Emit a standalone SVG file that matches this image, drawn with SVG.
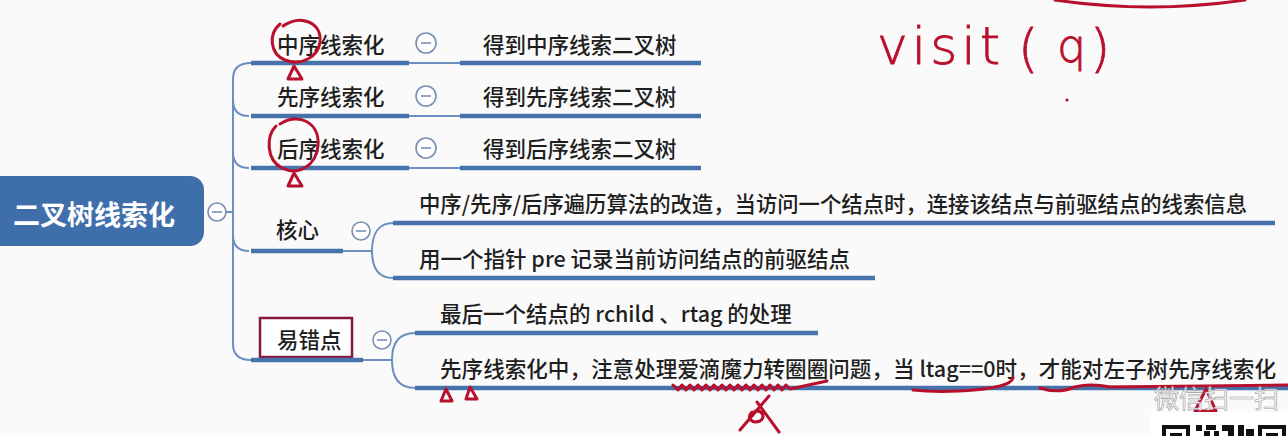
<svg xmlns="http://www.w3.org/2000/svg" width="1288" height="436" viewBox="0 0 1288 436">
<style>
.t{font-family:"Noto Sans CJK SC","Noto Sans",sans-serif;font-size:21.5px;font-weight:500;fill:#1e1e1e;}
.root{font-family:"Noto Sans CJK SC","Noto Sans",sans-serif;font-size:27px;font-weight:bold;fill:#ffffff;}
.ul{stroke:#4673ab;stroke-width:4.5;fill:none;stroke-linecap:butt;}
.thin{stroke:#6b8fbf;stroke-width:2;fill:none;}
.cc{fill:#ffffff;stroke:#7890b4;stroke-width:1.6;}
.cm{stroke:#7890b4;stroke-width:1.6;}
.red{stroke:#b8102c;stroke-width:3;fill:none;stroke-linecap:round;stroke-linejoin:round;}
.hand{font-family:"DejaVu Sans",sans-serif;font-weight:200;fill:#b8102c;stroke:#b8102c;stroke-width:0.8;}
</style>
<rect x="0" y="0" width="1288" height="436" fill="#fafafa"/>

<g id="connectors">
  <line class="thin" x1="226" y1="212" x2="233" y2="212"/>
  <path class="thin" d="M251 63 Q233 63 233 79 V344 Q233 360 251 360"/>
  <path class="thin" d="M233 100 Q233 116 249 116"/>
  <path class="thin" d="M233 152 Q233 168 249 168"/>
  <path class="thin" d="M233 235 Q233 251 249 251"/>
  <line class="thin" x1="409" y1="63" x2="460" y2="63"/>
  <line class="thin" x1="409" y1="116" x2="460" y2="116"/>
  <line class="thin" x1="409" y1="168" x2="460" y2="168"/>
  <path class="thin" d="M343 251 H372 C372 232 380 223 393 223"/>
  <path class="thin" d="M372 251 C372 270 380 278 393 278"/>
  <path class="thin" d="M363 360 H392 C392 341 400 333 415 333"/>
  <path class="thin" d="M392 360 C392 379 400 388 415 388"/>
</g>

<g id="root">
  <rect x="-14" y="176" width="218" height="70" rx="14" fill="#3f6fab"/>
  <text class="root" x="13" y="225">二叉树线索化</text>
  <circle class="cc" cx="217" cy="212" r="9"/>
  <line class="cm" x1="212" y1="212" x2="222" y2="212"/>
</g>

<g id="n-zhongxu">
  <text class="t" x="277" y="53">中序线索化</text>
  <line class="ul" x1="251" y1="63" x2="409" y2="63"/>
  <circle class="cc" cx="426" cy="43" r="10"/>
  <line class="cm" x1="421" y1="43" x2="431" y2="43"/>
</g>
<g id="n-zhongxu-c">
  <text class="t" x="483" y="53">得到中序线索二叉树</text>
  <line class="ul" x1="460" y1="63" x2="701" y2="63"/>
</g>

<g id="n-xianxu">
  <text class="t" x="277" y="105">先序线索化</text>
  <line class="ul" x1="251" y1="116" x2="409" y2="116"/>
  <circle class="cc" cx="426" cy="96" r="10"/>
  <line class="cm" x1="421" y1="96" x2="431" y2="96"/>
</g>
<g id="n-xianxu-c">
  <text class="t" x="483" y="105">得到先序线索二叉树</text>
  <line class="ul" x1="460" y1="116" x2="701" y2="116"/>
</g>

<g id="n-houxu">
  <text class="t" x="277" y="157">后序线索化</text>
  <line class="ul" x1="251" y1="168" x2="409" y2="168"/>
  <circle class="cc" cx="426" cy="148" r="10"/>
  <line class="cm" x1="421" y1="148" x2="431" y2="148"/>
</g>
<g id="n-houxu-c">
  <text class="t" x="483" y="157">得到后序线索二叉树</text>
  <line class="ul" x1="460" y1="168" x2="701" y2="168"/>
</g>

<g id="n-hexin">
  <text class="t" x="276" y="238">核心</text>
  <line class="ul" x1="251" y1="251" x2="343" y2="251"/>
  <circle class="cc" cx="361" cy="231" r="9"/>
  <line class="cm" x1="356" y1="231" x2="366" y2="231"/>
</g>
<g id="n-hexin-c1">
  <text class="t" x="419" y="212" textLength="828" lengthAdjust="spacingAndGlyphs">中序/先序/后序遍历算法的改造，当访问一个结点时，连接该结点与前驱结点的线索信息</text>
  <line class="ul" x1="393" y1="223" x2="1275" y2="223"/>
</g>
<g id="n-hexin-c2">
  <text class="t" x="419" y="267">用一个指针 pre 记录当前访问结点的前驱结点</text>
  <line class="ul" x1="393" y1="278" x2="875" y2="278"/>
</g>

<g id="n-yicuo">
  <rect x="260" y="318" width="92" height="39" fill="#ffffff" stroke="#861838" stroke-width="2.5"/>
  <text class="t" x="277" y="348">易错点</text>
  <line class="ul" x1="251" y1="360" x2="363" y2="360"/>
  <circle class="cc" cx="382" cy="340" r="9"/>
  <line class="cm" x1="377" y1="340" x2="387" y2="340"/>
</g>
<g id="n-yicuo-c1">
  <text class="t" x="440" y="322">最后一个结点的 rchild 、rtag 的处理</text>
  <line class="ul" x1="415" y1="333" x2="818" y2="333"/>
</g>
<g id="n-yicuo-c2">
  <text class="t" x="440" y="377" textLength="836" lengthAdjust="spacingAndGlyphs">先序线索化中，注意处理爱滴魔力转圈圈问题，当 ltag==0时，才能对左子树先序线索化</text>
  <line class="ul" x1="415" y1="388" x2="1288" y2="388"/>
</g>

<g id="annotations">
  <path class="red" d="M283 26 C300 14 322 22 320 42 C318 58 300 66 285 60 C270 54 268 34 280 24"/>
  <path class="red" d="M294 66 L288 79 L302 79 Z"/>
  <path class="red" d="M280 124 C298 112 320 122 318 146 C316 166 298 176 282 168 C266 160 266 136 276 126"/>
  <path class="red" d="M294 173 L288 186 L302 186 Z"/>
  <path class="red" d="M1055 0 Q1150 14 1245 0"/>
  <text class="hand" x="877" y="64" font-size="52" letter-spacing="4">visit</text>
  <text class="hand" x="1018" y="66" font-size="52">(</text>
  <text class="hand" x="1057" y="62" font-size="46">q</text>
  <text class="hand" x="1090" y="66" font-size="52">)</text>
  <circle cx="1067" cy="100" r="1.6" fill="#b8102c"/>
  <path class="red" d="M446 389 L441 401 L452 401 Z"/>
  <path class="red" d="M470 387 L466 399 L477 399 Z"/>
  <path class="red" d="M673 385 l5 5 l4 -5 l4 5 l4 -5 l4 5 l4 -5 l4 5 l4 -5 l4 5 l4 -5 l4 5 l4 -5 l4 5 l4 -5 l4 5 l4 -5 l4 5 l4 -5 l4 5 l4 -5 l4 5 l4 -5 l4 5 l4 -5 l4 5 l4 -5 l4 5 l4 -5 l4 4 L827 381"/>
  <path class="red" d="M740 430 L769 396 M757 402 L779 432 M752 412 C746 418 752 424 760 421 C766 417 762 410 755 411"/>
  <path class="red" d="M913 390 C940 393 980 391 1000 386 C1008 384 1012 381 1013 378"/>
  <path class="red" d="M1040 388 Q1058 394 1075 387 Q1090 383 1110 387 L1288 385"/>
  <path class="red" d="M1206 389 L1195 411 L1216 411 Z"/>
</g>

<g id="overlay">
  <text x="1154" y="408" font-family="Noto Sans CJK SC, sans-serif" font-size="25" fill="#ffffff" fill-opacity="0.85" stroke="#9a9a9a" stroke-width="0.6">微信扫一扫</text>
  <rect x="1150" y="412" width="138" height="24" fill="#ffffff"/>
  <rect x="1162" y="425" width="28" height="20" fill="#111"/>
  <rect x="1166" y="429" width="20" height="20" fill="#fff"/>
  <rect x="1170" y="433" width="12" height="12" fill="#111"/>
  <rect x="1258" y="425" width="28" height="20" fill="#111"/>
  <rect x="1262" y="429" width="20" height="20" fill="#fff"/>
  <rect x="1266" y="433" width="12" height="12" fill="#111"/>
  <rect x="1196" y="425" width="6" height="6" fill="#111"/>
  <rect x="1206" y="425" width="10" height="5" fill="#111"/>
  <rect x="1204" y="431" width="6" height="5" fill="#111"/>
  <rect x="1214" y="431" width="5" height="5" fill="#111"/>
  <rect x="1222" y="425" width="12" height="6" fill="#111"/>
  <rect x="1228" y="431" width="6" height="5" fill="#111"/>
  <rect x="1238" y="425" width="6" height="11" fill="#111"/>
  <rect x="1246" y="429" width="8" height="7" fill="#111"/>
</g>
</svg>
